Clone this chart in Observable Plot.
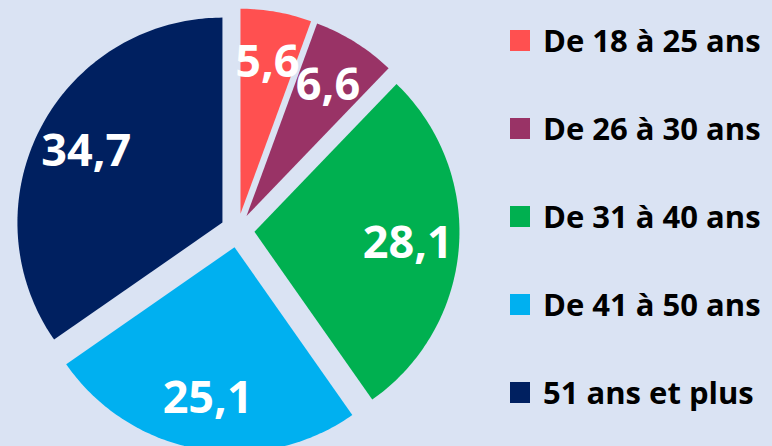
<!DOCTYPE html>
<html><head><meta charset="utf-8">
<script src="https://cdn.jsdelivr.net/npm/d3@7"></script>
<script src="https://cdn.jsdelivr.net/npm/@observablehq/plot@0.6"></script>
<style>
html,body{margin:0;padding:0;background:#DAE3F3;}
#wrap{position:relative;width:772px;height:446px;overflow:hidden;background:#DAE3F3;}
#legend{position:absolute;left:510px;top:29px;font-family:"Open Sans",Lato,sans-serif;font-weight:bold;color:#000;}
.item{display:flex;align-items:center;height:22px;margin-bottom:66px;white-space:nowrap;}
.sw{width:20px;height:21px;margin-right:13px;flex:none;}
.lab{font-size:31px;line-height:22px;}
</style>
</head><body>
<div id="wrap"><div id="legend"></div></div>
<script>
const categories = ["De 18 à 25 ans","De 26 à 30 ans","De 31 à 40 ans","De 41 à 50 ans","51 ans et plus"];
const values = [5.6, 6.6, 28.1, 25.1, 34.7];
const colors = ["#FF5050","#993366","#00B050","#00B0F0","#002060"];

// layout
const W = 772, H = 446, CX = 237, CY = 230, R = 205, EXPLODE = 17 / R, LABEL_R = 0.75;
const fmt = v => d3.format(".1f")(v).replace(".", ",");

const rows = categories.map((c, i) => ({cat: c, value: values[i]}));
const arcs = d3.pie().sort(null).value(d => d.value)(rows);

const pts = [];
const labelRows = [];
for (const a of arcs) {
  const mid = (a.startAngle + a.endAngle) / 2;
  const ox = EXPLODE * Math.sin(mid), oy = EXPLODE * Math.cos(mid);
  pts.push({cat: a.data.cat, x: ox, y: oy});
  const n = Math.max(8, Math.ceil((a.endAngle - a.startAngle) * 60));
  for (let k = 0; k <= n; k++) {
    const t = a.startAngle + (a.endAngle - a.startAngle) * k / n;
    pts.push({cat: a.data.cat, x: ox + Math.sin(t), y: oy + Math.cos(t)});
  }
  pts.push({cat: a.data.cat, x: ox, y: oy});
  labelRows.push({cat: a.data.cat, text: fmt(a.data.value), x: ox + LABEL_R * Math.sin(mid), y: oy + LABEL_R * Math.cos(mid)});
}

const chart = Plot.plot({
  width: W, height: H, margin: 0,
  x: {domain: [-CX / R, (W - CX) / R], axis: null},
  y: {domain: [-(H - CY) / R, CY / R], axis: null},
  color: {domain: categories, range: colors},
  style: {background: "transparent", overflow: "hidden"},
  marks: [
    Plot.line(pts, {x: "x", y: "y", z: "cat", fill: "cat", stroke: null, curve: "linear"}),
    Plot.text(labelRows, {x: "x", y: "y", text: "text", fill: "white", fontSize: 45, fontWeight: "bold", fontFamily: "'Open Sans', Lato, sans-serif"})
  ]
});
document.getElementById("wrap").prepend(chart);

const legend = document.getElementById("legend");
categories.forEach((c, i) => {
  const it = document.createElement("div"); it.className = "item";
  const sw = document.createElement("div"); sw.className = "sw"; sw.style.background = colors[i];
  const lb = document.createElement("span"); lb.className = "lab"; lb.textContent = c;
  it.append(sw, lb); legend.append(it);
});
</script>
</body></html>
